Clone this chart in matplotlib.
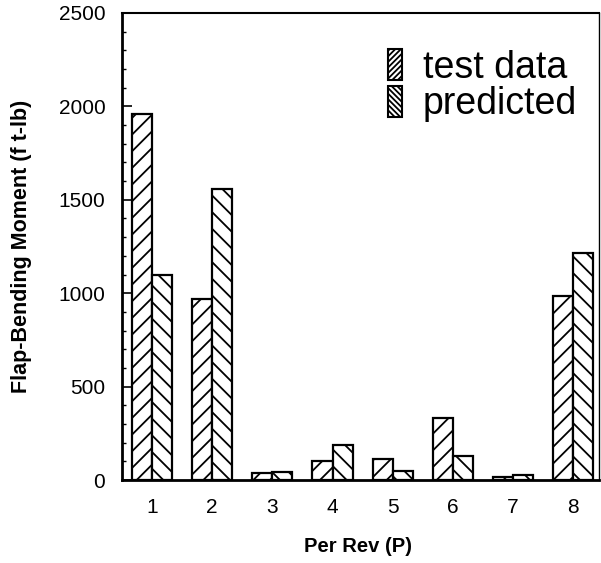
import matplotlib
matplotlib.use("Agg")
import matplotlib.pyplot as plt
from matplotlib.patches import Patch
from matplotlib.ticker import MultipleLocator
import numpy as np

plt.rcParams["font.family"] = ["Liberation Sans", "DejaVu Sans"]
plt.rcParams["hatch.linewidth"] = 1.3

# harmonics (per rev) and flap-bending moment amplitudes, ft-lb
per_rev = [1, 2, 3, 4, 5, 6, 7, 8]
test_data = [1960, 970, 35, 100, 110, 330, 16, 985]
predicted = [1100, 1560, 45, 190, 48, 128, 27, 1215]

x = np.array(per_rev, dtype=float)
width = 0.333

fig = plt.figure(figsize=(6.01, 5.63), dpi=100)
ax = fig.add_axes([122 / 601, 1 - 480 / 563, 477 / 601, 467 / 563])

ax.bar(x - width / 2, test_data, width, facecolor="white", edgecolor="black",
       linewidth=1.6, hatch="//", zorder=2)
ax.bar(x + width / 2, predicted, width, facecolor="white", edgecolor="black",
       linewidth=1.6, hatch="\\\\", zorder=2)

ax.set_xlim(0.5, 8.43)
ax.set_ylim(0, 2500)
ax.set_xticks(per_rev)
ax.yaxis.set_major_locator(MultipleLocator(500))
ax.yaxis.set_minor_locator(MultipleLocator(100))
ax.tick_params(axis="x", length=0, pad=13, labelsize=15)
ax.tick_params(axis="y", which="major", direction="in", length=7, width=1.2,
               pad=12, labelsize=15)
ax.tick_params(axis="y", which="minor", direction="in", length=3, width=1)

ax.spines["left"].set_linewidth(2)
ax.spines["bottom"].set_linewidth(2)
ax.spines["top"].set_linewidth(1.5)
ax.spines["right"].set_linewidth(1)

ax.set_ylabel("Flap-Bending Moment (f t-lb)", fontsize=15.5, fontweight="bold")
ax.set_xlabel("Per Rev (P)", fontsize=14.5, fontweight="bold")
ax.yaxis.set_label_coords(-0.189, 0.5)
ax.xaxis.set_label_coords(0.495, -0.122)

handles = [
    Patch(facecolor="white", edgecolor="black", linewidth=1.5, hatch="//////"),
    Patch(facecolor="white", edgecolor="black", linewidth=1.5, hatch="\\\\\\\\\\\\"),
]
ax.legend(handles, ["test data", "predicted"], loc="center left",
          bbox_to_anchor=(0.558, 0.844), frameon=False, fontsize=27,
          handlelength=0.37, handleheight=0.9, handletextpad=0.55,
          labelspacing=0.0, borderpad=0, borderaxespad=0)

fig.savefig("out.png", dpi=100)
